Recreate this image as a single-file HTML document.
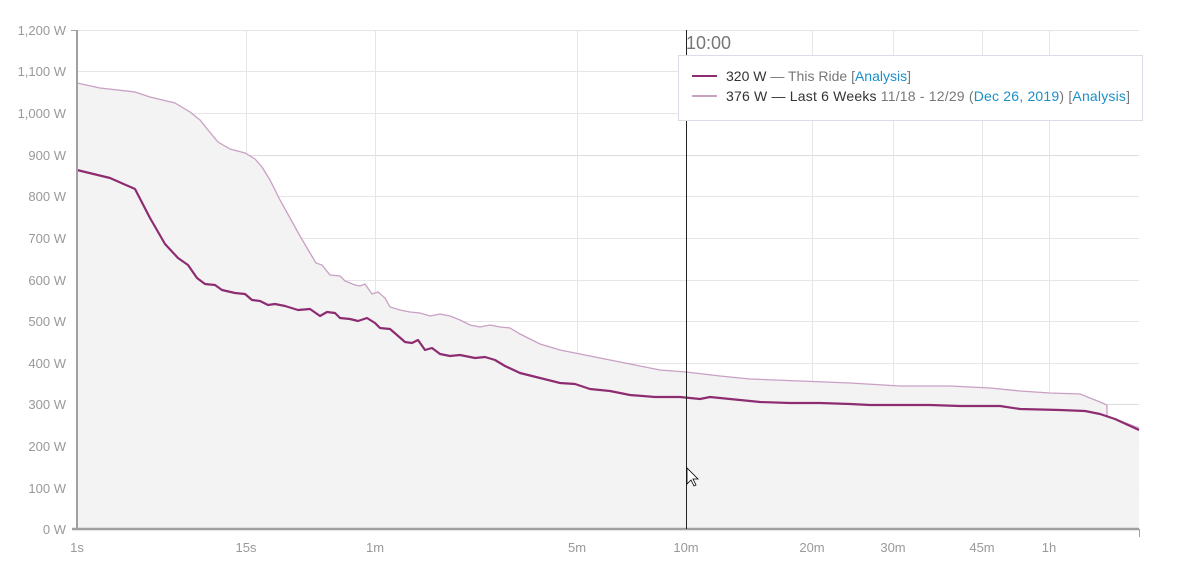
<!DOCTYPE html>
<html><head><meta charset="utf-8"><style>
body{margin:0;background:#fff;}
svg text{font-family:"Liberation Sans",sans-serif;}
</style></head><body>
<svg width="1195" height="575" viewBox="0 0 1195 575" xmlns="http://www.w3.org/2000/svg">
<g stroke="#e6e6e6" stroke-width="1">
<line x1="77" x2="1139" y1="30.5" y2="30.5"/><line x1="77" x2="1139" y1="71.5" y2="71.5"/><line x1="77" x2="1139" y1="113.5" y2="113.5"/><line x1="77" x2="1139" y1="155.5" y2="155.5" stroke="#dcdcdc"/><line x1="77" x2="1139" y1="196.5" y2="196.5"/><line x1="77" x2="1139" y1="238.5" y2="238.5"/><line x1="77" x2="1139" y1="280.5" y2="280.5"/><line x1="77" x2="1139" y1="321.5" y2="321.5"/><line x1="77" x2="1139" y1="363.5" y2="363.5"/><line x1="77" x2="1139" y1="404.5" y2="404.5" stroke="#dcdcdc"/><line x1="77" x2="1139" y1="446.5" y2="446.5"/><line x1="77" x2="1139" y1="488.5" y2="488.5"/>
<line x1="246.5" x2="246.5" y1="30" y2="529"/><line x1="375.5" x2="375.5" y1="30" y2="529"/><line x1="577.5" x2="577.5" y1="30" y2="529"/><line x1="812.5" x2="812.5" y1="30" y2="529"/><line x1="893.5" x2="893.5" y1="30" y2="529"/><line x1="982.5" x2="982.5" y1="30" y2="529"/><line x1="1049.5" x2="1049.5" y1="30" y2="529"/>
</g>
<polygon fill="#f2f2f2" fill-opacity="0.95" points="77,529 77,83 100,88 135,92 150,97 175,103 190,112 200,120 208,130 218,142 230,149 245,153 255,159 262,167 270,180 280,200 290,218 300,236 310,253 316,263 322,265 330,275 340,276 345,281 355,285 360,286 365,284 372,294 378,292 385,298 390,307 400,310 410,312 420,313 430,316 440,314 450,316 460,320 470,325 480,327 490,325 500,327 510,328 520,334 540,344 560,350 575,353 600,358 630,364 660,370 686,372 720,376 750,379 800,381 850,383 900,386 950,386 990,388 1020,391 1050,393 1080,394 1100,402 1107,405 1107,416 1139,428 1139,529"/>
<polyline fill="none" stroke="#c9a0c4" stroke-width="1.3" points="77,83 100,88 135,92 150,97 175,103 190,112 200,120 208,130 218,142 230,149 245,153 255,159 262,167 270,180 280,200 290,218 300,236 310,253 316,263 322,265 330,275 340,276 345,281 355,285 360,286 365,284 372,294 378,292 385,298 390,307 400,310 410,312 420,313 430,316 440,314 450,316 460,320 470,325 480,327 490,325 500,327 510,328 520,334 540,344 560,350 575,353 600,358 630,364 660,370 686,372 720,376 750,379 800,381 850,383 900,386 950,386 990,388 1020,391 1050,393 1080,394 1100,402 1107,405 1107,416 1139,428"/>
<polyline fill="none" stroke="#8e2c72" stroke-width="2.2" stroke-linejoin="round" points="77,170 110,178 135,189 150,218 165,244 178,258 188,265 197,278 205,284 215,285 222,290 235,293 245,294 252,300 260,301 268,305 275,304 285,306 298,310 310,309 320,316 327,312 335,313 340,318 350,319 358,321 367,318 375,323 380,328 390,329 397,335 405,342 412,343 418,340 425,350 432,348 440,354 450,356 460,355 475,358 485,357 495,360 505,366 520,373 540,378 560,383 575,384 590,389 610,391 630,395 655,397 680,397 700,399 710,397 730,399 760,402 790,403 820,403 850,404 870,405 930,405 960,406 1000,406 1020,409 1060,410 1085,411 1100,414 1115,419 1139,430"/>
<line x1="77" x2="77" y1="30" y2="530" stroke="#a0a0a0" stroke-width="2"/>
<line x1="72" x2="1139" y1="529" y2="529" stroke="#a0a0a0" stroke-width="2.5"/>
<line x1="1139.5" x2="1139.5" y1="529" y2="537" stroke="#a0a0a0"/>
<g stroke="#a0a0a0"><line x1="71" x2="77" y1="30.5" y2="30.5"/></g>
<line x1="686.5" x2="686.5" y1="30" y2="529" stroke="#222" stroke-width="1"/>
<g fill="#999" font-size="13" text-anchor="end">
<text x="66" y="35">1,200 W</text><text x="66" y="76">1,100 W</text><text x="66" y="118">1,000 W</text><text x="66" y="160">900 W</text><text x="66" y="201">800 W</text><text x="66" y="243">700 W</text><text x="66" y="285">600 W</text><text x="66" y="326">500 W</text><text x="66" y="368">400 W</text><text x="66" y="409">300 W</text><text x="66" y="451">200 W</text><text x="66" y="493">100 W</text><text x="66" y="534">0 W</text>
</g>
<g fill="#999" font-size="13" text-anchor="middle">
<text x="77" y="552">1s</text><text x="246" y="552">15s</text><text x="375" y="552">1m</text><text x="577" y="552">5m</text><text x="686" y="552">10m</text><text x="812" y="552">20m</text><text x="893" y="552">30m</text><text x="982" y="552">45m</text><text x="1049" y="552">1h</text>
</g>
<text x="686" y="49" font-size="18" fill="#777">10:00</text>
<rect x="678.5" y="55.5" width="464" height="65" fill="#fff" stroke="#dcdce6"/>
<line x1="692" x2="717" y1="76" y2="76" stroke="#8e2c72" stroke-width="2"/>
<line x1="692" x2="717" y1="96" y2="96" stroke="#c9a0c4" stroke-width="2"/>
<text x="726" y="81" font-size="14" fill="#777" textLength="185"><tspan fill="#333">320 W</tspan> — This Ride [<tspan fill="#1a8fc9">Analysis</tspan>]</text>
<text x="726" y="101" font-size="14" fill="#777" textLength="404"><tspan fill="#333">376 W — Last 6 Weeks</tspan> 11/18 - 12/29 (<tspan fill="#1a8fc9">Dec 26, 2019</tspan>) [<tspan fill="#1a8fc9">Analysis</tspan>]</text>
<path d="M687,468 L687,484 L691,480 L694,486 L696,485 L693,479 L698,479 Z" fill="#fff" stroke="#000" stroke-width="0.8"/>
</svg>
</body></html>
